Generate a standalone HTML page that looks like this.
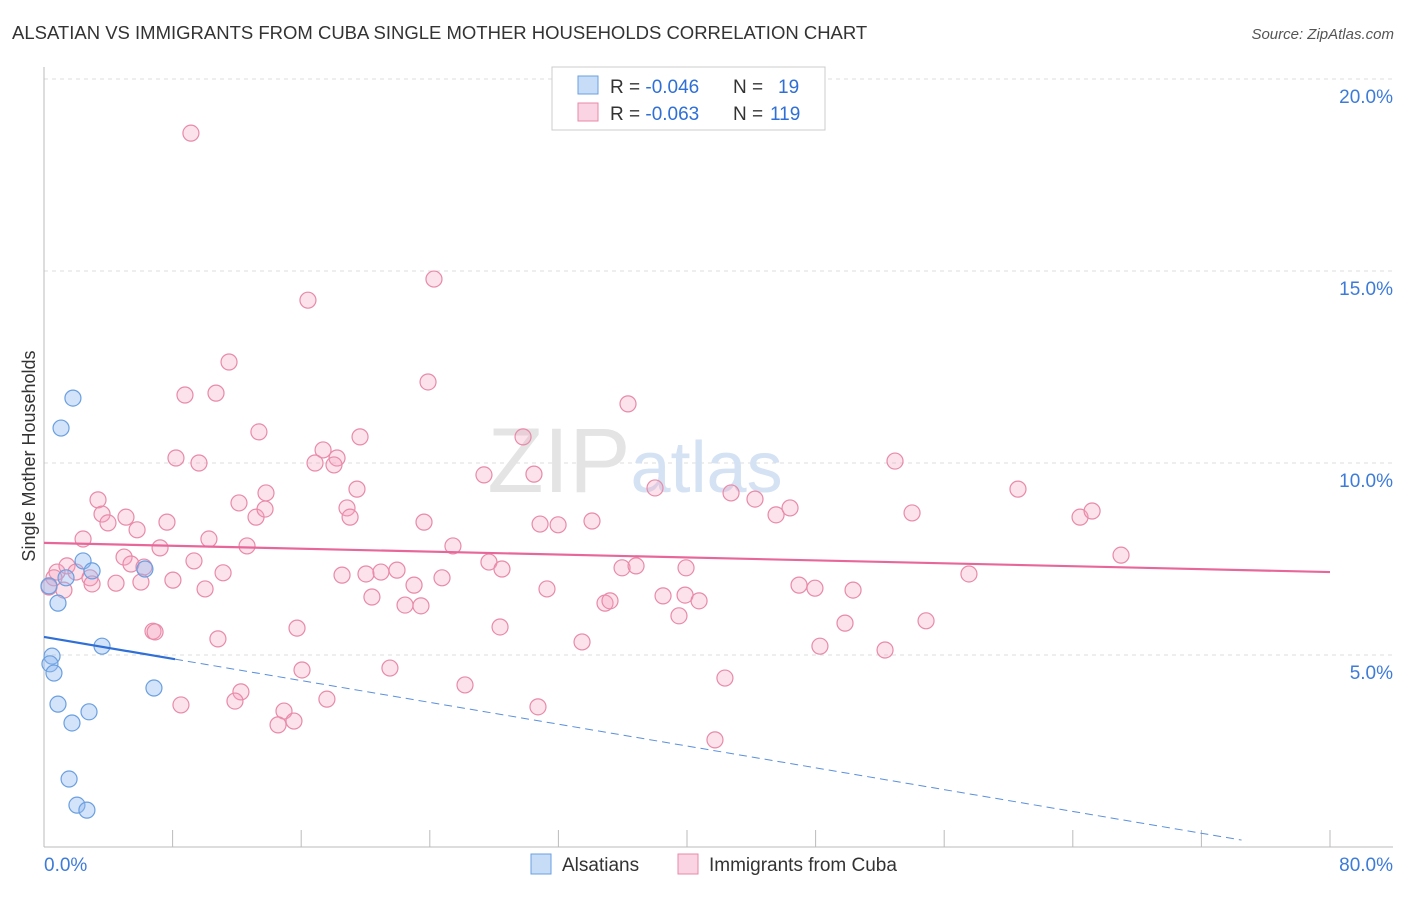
<!DOCTYPE html>
<html><head><meta charset="utf-8"><style>
body{margin:0;background:#fff;font-family:"Liberation Sans",sans-serif}
svg text{font-family:"Liberation Sans",sans-serif}
</style></head><body>
<svg id="chart" width="1406" height="892" xmlns="http://www.w3.org/2000/svg">
<text x="12" y="39" font-size="18.5" fill="#333">ALSATIAN VS IMMIGRANTS FROM CUBA SINGLE MOTHER HOUSEHOLDS CORRELATION CHART</text>
<text x="1394" y="39" font-size="15" fill="#555" font-style="italic" text-anchor="end">Source: ZipAtlas.com</text>
<text x="35" y="456" font-size="18" fill="#333" text-anchor="middle" transform="rotate(-90 35 456)">Single Mother Households</text>
<g id="grid"></g>
<g id="axes"></g>
<text x="635" y="492" font-size="92" fill="#e4e4e4" text-anchor="middle" font-family="Liberation Serif">ZIP<tspan fill="#d4e2f4" font-family="Liberation Sans" font-size="72">atlas</tspan></text>
<g id="pinkPts"></g>
<g id="bluePts"></g>
<g id="lines"></g>
<g>
<rect x="552" y="67" width="273" height="63" fill="#fff" stroke="#ccc"/>
<rect x="578" y="76" width="20" height="18" fill="rgba(144,185,240,0.5)" stroke="#6a9fe0"/>
<rect x="578" y="103" width="20" height="18" fill="rgba(244,160,190,0.45)" stroke="#e88aa8"/>
<text x="610" y="93" font-size="19" fill="#333">R = <tspan fill="#2f6fd6">-0.046</tspan><tspan x="733">N =</tspan><tspan fill="#2f6fd6" x="778">19</tspan></text>
<text x="610" y="120" font-size="19" fill="#333">R = <tspan fill="#2f6fd6">-0.063</tspan><tspan x="733">N =</tspan><tspan fill="#2f6fd6" x="770">119</tspan></text>
</g>
<g>
<rect x="531" y="854" width="20" height="20" fill="rgba(144,185,240,0.5)" stroke="#6a9fe0"/>
<text x="562" y="871" font-size="19" fill="#333">Alsatians</text>
<rect x="678" y="854" width="20" height="20" fill="rgba(244,160,190,0.45)" stroke="#e88aa8"/>
<text x="709" y="871" font-size="19" fill="#333">Immigrants from Cuba</text>
</g>
</svg>
<script>
const xTicks=[0,8,16,24,32,40,48,56,64,72,80];
const yTicks=[5,10,15,20];
const yTickLabels=["5.0%","10.0%","15.0%","20.0%"];
const xEndLabels=["0.0%","80.0%"];
const blueX=[1.80,1.06,2.43,2.99,6.28,1.37,0.31,0.87,0.50,0.37,0.62,3.61,6.84,0.87,2.80,1.74,1.56,2.05,2.67];
const blueY=[11.69,10.91,7.45,7.19,7.24,7.01,6.80,6.35,4.97,4.77,4.53,5.23,4.14,3.72,3.52,3.23,1.77,1.09,0.96];
const pinkX=[9.14,24.26,16.42,11.51,23.89,8.77,10.70,36.33,13.37,17.36,19.66,29.80,8.21,9.64,16.86,18.23,18.04,52.94,27.37,30.48,3.36,12.13,13.81,19.47,38.01,42.74,44.23,60.59,3.61,5.10,3.98,5.79,7.65,13.19,13.75,18.85,19.04,23.64,30.86,31.98,34.09,45.54,46.41,54.00,64.45,65.20,2.43,10.26,7.22,12.63,25.44,67.00,4.98,9.33,5.41,6.22,27.68,28.49,35.96,36.83,39.94,0.81,0.62,1.43,1.99,2.86,0.31,1.24,2.99,4.48,6.03,8.02,11.14,10.02,18.54,20.03,20.96,21.96,23.02,24.76,57.54,46.97,47.96,50.33,31.29,20.40,22.46,23.45,34.90,35.21,38.51,39.88,40.75,39.50,6.78,6.91,10.82,15.74,28.37,33.47,49.83,54.87,48.27,52.32,16.05,21.52,12.25,11.88,17.60,8.52,26.19,30.73,42.36,14.93,15.55,14.56,41.74];
const pinkY=[18.59,14.79,14.24,12.63,12.11,11.77,11.82,11.54,10.81,10.34,10.68,10.68,10.13,10.00,10.00,10.13,9.95,10.05,9.69,9.71,9.04,8.96,9.22,9.32,9.35,9.22,9.06,9.32,8.67,8.59,8.44,8.26,8.46,8.59,8.80,8.83,8.59,8.46,8.41,8.39,8.49,8.65,8.83,8.70,8.59,8.75,8.02,8.02,7.79,7.84,7.84,7.60,7.55,7.45,7.37,7.29,7.42,7.24,7.27,7.32,7.27,7.16,7.01,7.32,7.16,7.01,6.77,6.69,6.85,6.87,6.90,6.95,7.14,6.72,7.08,7.11,7.16,7.21,6.82,7.01,7.11,6.82,6.74,6.69,6.72,6.51,6.30,6.28,6.35,6.41,6.54,6.56,6.41,6.02,5.62,5.60,5.42,5.70,5.73,5.34,5.83,5.89,5.23,5.13,4.61,4.66,4.04,3.80,3.85,3.70,4.22,3.65,4.40,3.54,3.28,3.18,2.79];
const pinkTrend=[7.92,7.16];
const blueTrend=[5.47,-0.071];
const X=v=>44+v*1286/80, Y=v=>847-v*192/5;
const NS="http://www.w3.org/2000/svg";
function mk(t,a,p){const e=document.createElementNS(NS,t);for(const k in a)e.setAttribute(k,a[k]);p.appendChild(e);return e;}
const gridG=document.getElementById('grid'),axesG=document.getElementById('axes');
yTicks.forEach((v,i)=>{
 const l=mk('line',{x1:44,x2:1393,y1:Y(v),y2:Y(v),stroke:'#ddd','stroke-dasharray':'4 4'},gridG);
 
 
 const t=mk('text',{x:1393,y:Y(v)+24,'font-size':19,fill:'#3d7bd8','text-anchor':'end'},axesG);
 t.textContent=yTickLabels[i];
 
 
});
const topGrid=mk('line',{x1:44,x2:1393,y1:79,y2:79,stroke:'#ddd','stroke-dasharray':'4 4'},gridG);


mk('line',{x1:44,x2:44,y1:67,y2:847,stroke:'#bbb'},axesG);
mk('line',{x1:44,x2:1393,y1:847,y2:847,stroke:'#bbb'},axesG);
xTicks.forEach(v=>{
 const l=mk('line',{x1:X(v),x2:X(v),y1:830,y2:847,stroke:'#bbb'},axesG);
 
 
});
[[0,'start',44],[80,'end',1393]].forEach((d,i)=>{
 const t=mk('text',{x:d[2],y:871,'font-size':19,fill:'#3d7bd8','text-anchor':d[1]},axesG);
 t.textContent=xEndLabels[i];
 
 
});
const pg=document.getElementById('pinkPts');
pinkX.forEach((x,i)=>{
 const c=mk('circle',{cx:X(x),cy:Y(pinkY[i]),r:8,fill:'rgba(244,160,190,0.3)',stroke:'#e88aa8','stroke-width':1.2},pg);
 
 
});
const bg=document.getElementById('bluePts');
blueX.forEach((x,i)=>{
 const c=mk('circle',{cx:X(x),cy:Y(blueY[i]),r:8,fill:'rgba(144,185,240,0.4)',stroke:'#6a9fe0','stroke-width':1.2},bg);
 
 
});
const lg=document.getElementById('lines');
const pl=mk('line',{x1:X(0),y1:Y(pinkTrend[0]),x2:X(80),y2:Y(pinkTrend[1]),stroke:'#e8679a','stroke-width':2.2},lg);


const bEnd=8.15, bFar=74.5;
const bs=mk('line',{x1:X(0),y1:Y(blueTrend[0]),x2:X(bEnd),y2:Y(blueTrend[0]+blueTrend[1]*bEnd),stroke:'#2f6fd6','stroke-width':2.2},lg);


const bd=mk('line',{x1:X(bEnd),y1:Y(blueTrend[0]+blueTrend[1]*bEnd),x2:X(bFar),y2:Y(blueTrend[0]+blueTrend[1]*bFar),stroke:'#5b8fdc','stroke-width':1,'stroke-dasharray':'8 5'},lg);


</script>
</body></html>
